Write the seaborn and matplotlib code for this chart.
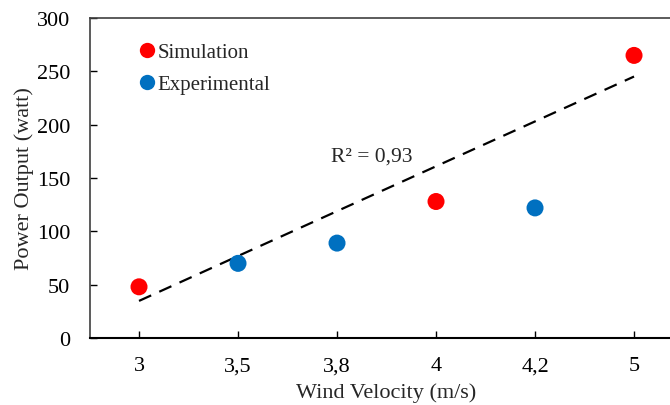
import numpy as np
import pandas as pd
import matplotlib.pyplot as plt
import seaborn as sns

# Datos
velocidad = ["3", "3,5", "3,8", "4", "4,2", "5"]
potencia = [48, 70, 89, 128, 122, 265]
serie = ["Simulation", "Experimental", "Experimental", "Simulation", "Experimental", "Simulation"]
y_ticks = [0, 50, 100, 150, 200, 250, 300]

df = pd.DataFrame({"vel": velocidad, "pot": potencia, "serie": serie})
df["idx"] = range(len(df))
sim = df[df["serie"] == "Simulation"]

sns.set_style("white")
plt.rcParams["font.family"] = ["Liberation Serif", "DejaVu Serif"]

fig = plt.figure(figsize=(6.7, 4.06), dpi=100)
ax = fig.add_axes([0.1336, 0.165, 0.8866, 0.788])

# Línea de tendencia (solo simulación)
sns.regplot(x=sim["idx"], y=sim["pot"], scatter=False, ci=None, ax=ax,
            line_kws=dict(color="black", lw=1.6, ls=(0, (6, 4))))

sns.scatterplot(data=df, x="idx", y="pot", hue="serie",
                palette={"Simulation": "#FF0000", "Experimental": "#0070C0"},
                s=150, edgecolor="none", ax=ax, zorder=3)

# R²
coef = np.polyfit(sim["idx"], sim["pot"], 1)
pred = np.polyval(coef, sim["idx"])
r2 = 1 - np.sum((sim["pot"] - pred) ** 2) / np.sum((sim["pot"] - sim["pot"].mean()) ** 2)
ax.text(2.35, 171, "R² = " + f"{r2:.2f}".replace(".", ","), fontsize=15.5,
        ha="center", va="center")

ax.set_xlim(-0.5, 5.5)
ax.set_ylim(0, 300)
ax.set_xticks(range(len(velocidad)))
ax.set_xticklabels(velocidad)
ax.set_yticks(y_ticks)
ax.tick_params(axis="both", labelsize=16, length=5, width=1, direction="in",
               colors="black", bottom=True, left=True)
ax.tick_params(axis="x", pad=13)
ax.tick_params(axis="y", pad=14)
ax.set_xlabel("Wind Velocity (m/s)", fontsize=16, labelpad=5)
ax.set_ylabel("Power Output (watt)", fontsize=16, labelpad=2)

for s in ax.spines.values():
    s.set_color("#404040")
    s.set_linewidth(1.2)
ax.spines["bottom"].set_color("black")
ax.spines["bottom"].set_linewidth(1.5)

leg = ax.legend(loc="upper left", bbox_to_anchor=(0.048, 0.95), frameon=False,
                fontsize=15, handletextpad=-0.5, labelspacing=0.6, markerscale=0.9,
                borderaxespad=0)

fig.savefig("out.png", dpi=100)
